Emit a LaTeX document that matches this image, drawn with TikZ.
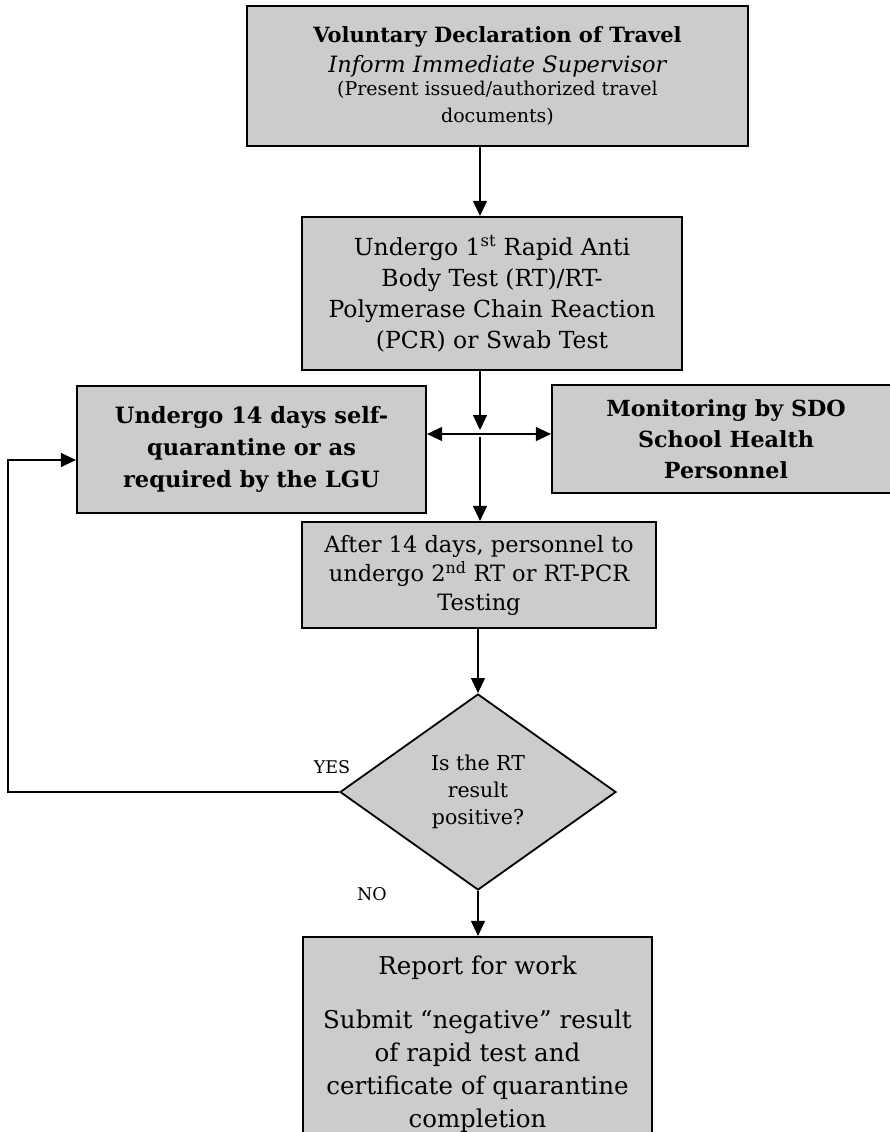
\documentclass[tikz,border=0pt]{standalone}
\usepackage{fontspec}
\setmainfont{DejaVu Serif}
\usetikzlibrary{arrows.meta,shapes.geometric,calc}
\definecolor{boxfill}{HTML}{CCCCCC}

\begin{document}
\begin{tikzpicture}[x=1pt, y=-1pt, >={Triangle[length=15pt,width=14pt]},
    stepbox/.style={draw, line width=2.2pt, fill=boxfill, align=center, inner sep=0pt},
    decision/.style={diamond, draw, line width=1.8pt, fill=boxfill, align=center, inner sep=0pt},
    flow/.style={->, line width=1.1pt},
    tag/.style={font=\fontsize{17.5}{20}\selectfont}]
    \useasboundingbox (0,0) rectangle (890,1132);

    % Declaration and first test
    \node[stepbox, minimum width=501pt, minimum height=140pt, font=\fontsize{21}{27}\selectfont] (declare) at (497.5,76)
        {\textbf{Voluntary Declaration of Travel}\\[3pt]{\fontsize{22.5}{27}\selectfont\itshape Inform Immediate Supervisor}\\[-4pt]{\fontsize{19}{27}\selectfont(Present issued/authorized travel}\\{\fontsize{19}{27}\selectfont documents)}};
    \node[stepbox, minimum width=380pt, minimum height=153pt, font=\fontsize{23.5}{31}\selectfont] (firsttest) at (492,293.5)
        {Undergo 1\textsuperscript{st} Rapid Anti\\Body Test (RT)/RT-\\Polymerase Chain Reaction\\(PCR) or Swab Test};

    % Quarantine and monitoring
    \node[stepbox, minimum width=349pt, minimum height=127pt, font=\fontsize{22.5}{32}\selectfont\bfseries] (quarantine) at (251.5,449.5)
        {Undergo 14 days self-\\quarantine or as\\required by the LGU};
    \node[stepbox, minimum width=348pt, minimum height=108pt, font=\fontsize{22.2}{31}\selectfont\bfseries] (monitor) at (726,439)
        {Monitoring by SDO\\School Health\\Personnel};
    \coordinate (hub) at (480,434);

    % Second test and decision
    \node[stepbox, minimum width=354pt, minimum height=106pt, font=\fontsize{22.5}{29}\selectfont] (secondtest) at (479,575)
        {After 14 days, personnel to\\undergo 2\textsuperscript{nd} RT or RT-PCR\\Testing};
    \node[decision, minimum width=276pt, minimum height=196pt, font=\fontsize{20.5}{27}\selectfont] (positive) at (478,792)
        {Is the RT\\result\\positive?};
    \node[stepbox, minimum width=349pt, minimum height=214pt, font=\fontsize{24.5}{33}\selectfont] (report) at (477.5,1044)
        {Report for work\\[21pt]Submit “negative” result\\of rapid test and\\certificate of quarantine\\completion};
    \coordinate (back) at (8,460);

    % Connectors
    \draw[flow] (declare.south -| hub) -- (firsttest.north -| hub);
    \draw[flow] (firsttest.south -| hub) -- ([yshift=4pt]hub);
    \draw[<->, line width=1.1pt] (hub -| quarantine.east) -- (hub -| monitor.west);
    \draw[flow] ([yshift=-3pt]hub) -- (secondtest.north -| hub);
    \draw[flow] (secondtest.south -| positive) -- (positive.north);
    \draw[flow] (positive.south) -- (report.north -| positive);
    \draw[flow] (positive.west) -| (back) -- (back -| quarantine.west);

    % Branch labels
    \node[tag] (yes) at (332,767) {YES};
    \node[tag] (no) at (372,894) {NO};
\end{tikzpicture}
\end{document}
